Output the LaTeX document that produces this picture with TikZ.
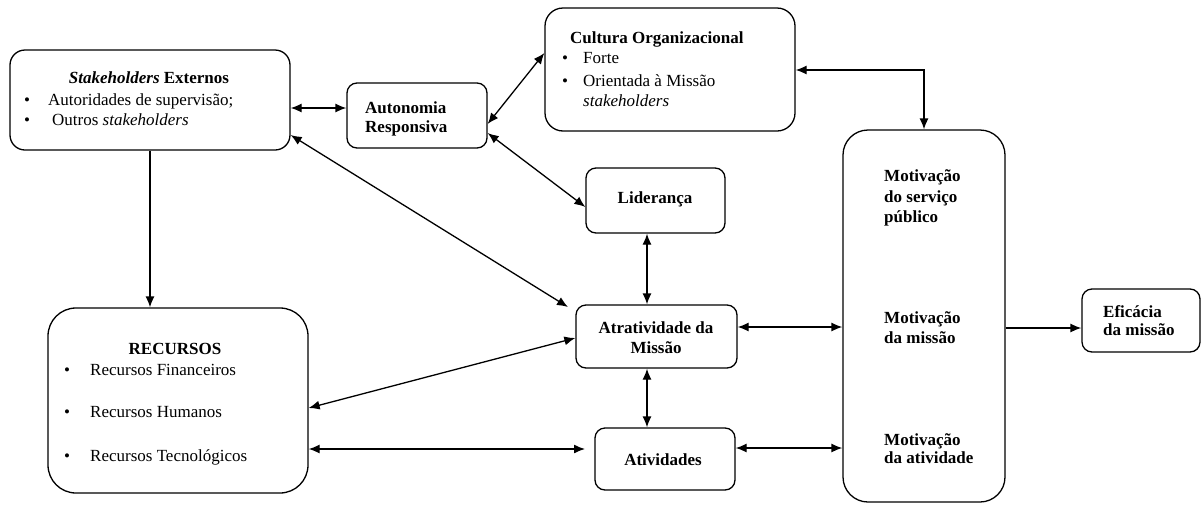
\documentclass[tikz,border=0pt]{standalone}
\usepackage{fontspec}
\setmainfont{Liberation Serif}
\usetikzlibrary{arrows.meta}
\begin{document}
\begin{tikzpicture}[x=1pt,y=-1pt,
  box/.style={draw, line width=1.3pt, rounded corners=#1, inner sep=0pt},
  box/.default=10pt,
  lbl/.style={inner sep=0pt, anchor=base west, font=\fontsize{17}{20}\selectfont},
  bl/.style={lbl, font=\fontsize{17}{20}\selectfont\bfseries},
  blc/.style={bl, anchor=base},
  conn/.style={line width=1.3pt},
  arr/.style={conn, -{Latex[length=11pt,width=9pt]}},
  darr/.style={conn, {Latex[length=11pt,width=9pt]}-{Latex[length=11pt,width=9pt]}}
]
\useasboundingbox (0,0) rectangle (1202,504);

% boxes
\node[box=15pt, minimum width=280pt, minimum height=100pt] (st) at (150,100) {};
\node[box=10pt, minimum width=140pt, minimum height=65pt] (au) at (417,115.5) {};
\node[box=18pt, minimum width=250pt, minimum height=123pt] (cu) at (670,69.5) {};
\node[box=10pt, minimum width=139pt, minimum height=65pt] (li) at (655.5,200.5) {};
\node[box=10pt, minimum width=161pt, minimum height=63pt] (at) at (656.5,336.5) {};
\node[box=10pt, minimum width=140pt, minimum height=62pt] (av) at (665,459) {};
\node[box=28pt, minimum width=260pt, minimum height=185pt] (re) at (178,400.5) {};
\node[box=25pt, minimum width=162pt, minimum height=372pt] (mo) at (924,316) {};
\node[box=10pt, minimum width=118pt, minimum height=63pt] (ef) at (1141,320.5) {};

% Stakeholders Externos
\node[blc] (st-t) at (149,83) {\textit{Stakeholders} Externos};
\node[lbl] (st-b1) at (24,105) {•};
\node[lbl] (st-1) at (48,105) {Autoridades de supervisão;};
\node[lbl] (st-b2) at (24,125) {•};
\node[lbl] (st-2) at (52,125) {Outros \textit{stakeholders}};

% Autonomia Responsiva
\node[bl] (au-1) at (365,113) {Autonomia};
\node[bl] (au-2) at (365,132) {Responsiva};

% Cultura Organizacional
\node[bl] (cu-t) at (570,43) {Cultura Organizacional};
\node[lbl] (cu-b1) at (562,63) {•};
\node[lbl] (cu-1) at (583,63) {Forte};
\node[lbl] (cu-b2) at (562,86) {•};
\node[lbl] (cu-2) at (583,86) {Orientada à Missão};
\node[lbl] (cu-3) at (583,106) {\textit{stakeholders}};

% Lideranca, Atratividade, Atividades
\node[blc] (li-t) at (655,203) {Liderança};
\node[blc] (at-1) at (656,333) {Atratividade da};
\node[blc] (at-2) at (656,353) {Missão};
\node[blc] (av-t) at (663,465) {Atividades};

% Recursos
\node[blc] (re-t) at (175,354) {RECURSOS};
\node[lbl] (re-b1) at (64,375) {•};
\node[lbl] (re-1) at (90,375) {Recursos Financeiros};
\node[lbl] (re-b2) at (64,417) {•};
\node[lbl] (re-2) at (90,417) {Recursos Humanos};
\node[lbl] (re-b3) at (64,461) {•};
\node[lbl] (re-3) at (90,461) {Recursos Tecnológicos};

% Motivacao
\node[bl] (mo-1) at (884,181) {Motivação};
\node[bl] (mo-2) at (884,202) {do serviço};
\node[bl] (mo-3) at (884,222) {público};
\node[bl] (mo-4) at (884,323) {Motivação};
\node[bl] (mo-5) at (884,343) {da missão};
\node[bl] (mo-6) at (884,445) {Motivação};
\node[bl] (mo-7) at (884,463) {da atividade};

% Eficacia
\node[bl] (ef-1) at (1103,317) {Eficácia};
\node[bl] (ef-2) at (1103,335) {da missão};

% free ends of connectors
\coordinate (atin) at (568,307);
\coordinate (avin) at (585,449);

% connectors
\draw[darr] (st.east |- 0,108) -- (au.west |- 0,108);
\draw[darr] (au.east |- 0,124) -- (cu.west |- 0,53);
\draw[darr] (cu.east |- 0,70) -| (mo.north);
\draw[darr] (au.east |- 0,133) -- (li.west |- 0,207);
\draw[darr] (st.east |- 0,135) -- (atin);
\draw[darr] (re.east |- 0,408) -- (at.west |- 0,338);
\draw[darr] (re.east |- 0,449) -- (avin);
\draw[darr] (li.south -| 647,0) -- (at.north -| 647,0);
\draw[darr] (at.south -| 647,0) -- (av.north -| 647,0);
\draw[darr] (at.east |- 0,327) -- (mo.west |- 0,327);
\draw[darr] (av.east |- 0,448) -- (mo.west |- 0,448);
\draw[arr] (mo.east |- 0,328) -- (ef.west |- 0,328);
\draw[arr] (st.south) -- (re.north -| st.south);
\end{tikzpicture}
\end{document}
